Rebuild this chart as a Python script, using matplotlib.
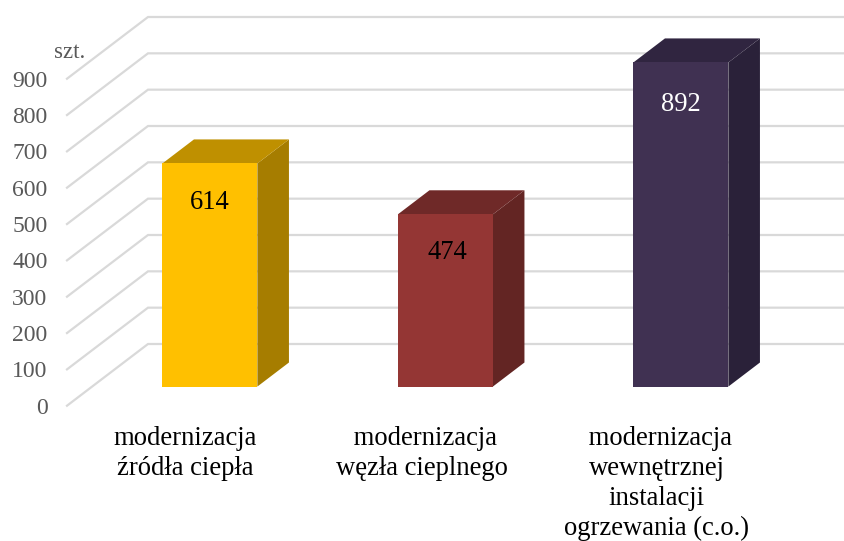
import matplotlib
matplotlib.use("Agg")
import matplotlib.pyplot as plt
from matplotlib.patches import Polygon
from matplotlib.transforms import ScaledTranslation

plt.rcParams['font.family'] = ['Liberation Serif', 'DejaVu Serif']

# leading spaces: the first line of these two sits a bit right in the original
categories = ['modernizacja\nźródła ciepła', ' modernizacja\nwęzła cieplnego',
              ' modernizacja\nwewnętrznej\ninstalacji\nogrzewania (c.o.)']
values = [614, 474, 892]
y_ticks = list(range(0, 1000, 100))
front_colors = ['#FFC000', '#943634', '#403152']
top_colors = ['#BF9000', '#6F2928', '#302540']
side_colors = ['#A67D00', '#632523', '#2A2139']
label_colors = ['black', 'black', 'white']
label_dx = [0, 1.4, 0]
label_dy = [-28.4, -27.7, -29.9]

W, H = 844, 541
fig = plt.figure(figsize=(W / 100, H / 100), dpi=100)
ax = fig.add_axes([67 / W, 1 - 405.7 / H, 706.5 / W, 327 / H])
ax.set_xlim(-0.5, 2.5)
ax.set_ylim(0, 900)
for s in ax.spines.values():
    s.set_visible(False)

# depth of the oblique 3d look, in data units
depth_x = 81 / 235.5
depth_y = 61.7 / (327 / 900)


def project(x, v, d):
    return x + d * depth_x, v + d * depth_y


# walls: slanted part on the floor side, then straight along the back
for v in y_ticks:
    xs, ys = zip(project(-0.5, v, 0), project(-0.5, v, 1), project(2.8, v, 1))
    ax.plot(xs, ys, color='#d9d9d9', lw=1.6, clip_on=False, zorder=1,
            solid_joinstyle='miter')

half = 47.5 / 235.5
d0, d1 = 0.31, 0.70
for i, v in enumerate(values):
    l, r = i - half, i + half
    front = [project(l, 0, d0), project(r, 0, d0), project(r, v, d0), project(l, v, d0)]
    side = [project(r, 0, d0), project(r, 0, d1), project(r, v, d1), project(r, v, d0)]
    top = [project(l, v, d0), project(r, v, d0), project(r, v, d1), project(l, v, d1)]
    ax.add_patch(Polygon(side, fc=side_colors[i], ec='none', clip_on=False, zorder=2))
    ax.add_patch(Polygon(top, fc=top_colors[i], ec='none', clip_on=False, zorder=2))
    ax.add_patch(Polygon(front, fc=front_colors[i], ec='none', clip_on=False, zorder=3))
    ax.annotate(str(v), project(i, v, d0), xytext=(label_dx[i], label_dy[i]),
                textcoords='offset points', ha='center', va='center', fontsize=19.2,
                color=label_colors[i], zorder=4, annotation_clip=False)

ax.set_yticks(y_ticks)
ax.set_xticks(range(3))
ax.set_xticklabels(categories, fontsize=19.2, color='black', linespacing=1.27)
ax.tick_params(axis='y', length=0, pad=14, labelsize=17, labelcolor='#595959')
ax.tick_params(axis='x', length=0, pad=14.5)

# the labels do not sit exactly under their categories in the original
for lab, dx in zip(ax.get_xticklabels(), [0.5, 1.5, 1]):
    lab.set_transform(lab.get_transform() + ScaledTranslation(dx / 100, 0, fig.dpi_scale_trans))

ax.text(54 / W, 1 - 53 / H, 'szt.', transform=fig.transFigure, fontsize=16.5,
        color='#595959', va='center', ha='left')

fig.savefig('out.png', dpi=100)
